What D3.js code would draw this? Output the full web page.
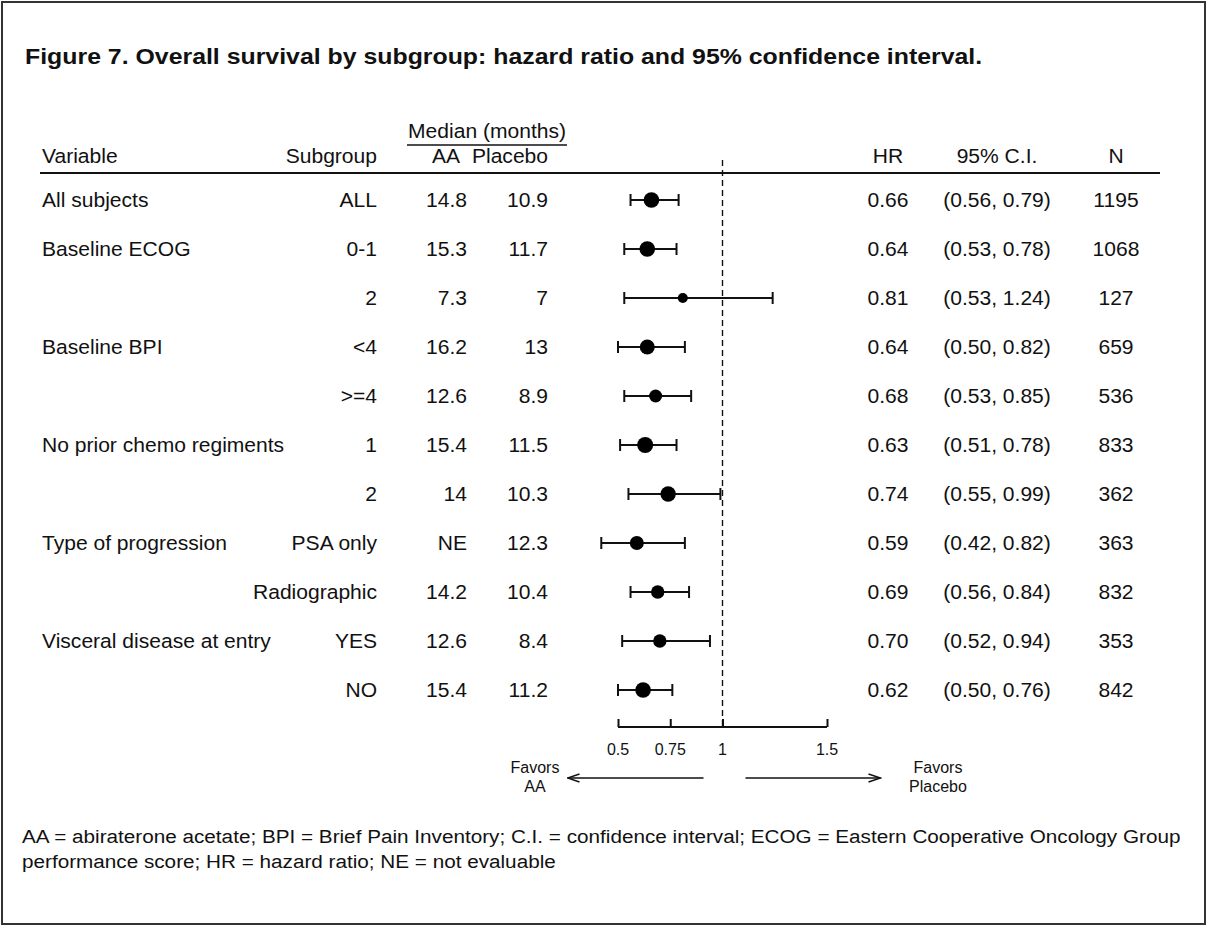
<!DOCTYPE html>
<html>
<head>
<meta charset="utf-8">
<script src="https://cdn.jsdelivr.net/npm/d3@7"></script>
<style>
  html, body { margin: 0; padding: 0; background: #fff; }
  svg { display: block; }
  text { font-family: "Liberation Sans", Arial, Helvetica, sans-serif; fill: #111; }
</style>
</head>
<body>
<svg id="chart" width="1208" height="927"></svg>
<script>
// ---------- DATA ----------
const variables = ["All subjects", "Baseline ECOG", "", "Baseline BPI", "", "No prior chemo regiments", "", "Type of progression", "", "Visceral disease at entry", ""];
const subgroups = ["ALL", "0-1", "2", "<4", ">=4", "1", "2", "PSA only", "Radiographic", "YES", "NO"];
const aaMedian = ["14.8", "15.3", "7.3", "16.2", "12.6", "15.4", "14", "NE", "14.2", "12.6", "15.4"];
const placeboMedian = ["10.9", "11.7", "7", "13", "8.9", "11.5", "10.3", "12.3", "10.4", "8.4", "11.2"];
const hazardRatio = [0.66, 0.64, 0.81, 0.64, 0.68, 0.63, 0.74, 0.59, 0.69, 0.70, 0.62];
const ciLower = [0.56, 0.53, 0.53, 0.50, 0.53, 0.51, 0.55, 0.42, 0.56, 0.52, 0.50];
const ciUpper = [0.79, 0.78, 1.24, 0.82, 0.85, 0.78, 0.99, 0.82, 0.84, 0.94, 0.76];
const nSubjects = [1195, 1068, 127, 659, 536, 833, 362, 363, 832, 353, 842];
const axisTicks = [0.5, 0.75, 1, 1.5];

const titleText = "Figure 7. Overall survival by subgroup: hazard ratio and 95% confidence interval.";
const footnoteLines = [
  "AA = abiraterone acetate; BPI = Brief Pain Inventory; C.I. = confidence interval; ECOG = Eastern Cooperative Oncology Group",
  "performance score; HR = hazard ratio; NE = not evaluable"
];

// ---------- STYLE / LAYOUT ----------
const markerRadius = [7.8, 7.8, 5, 7.5, 6.5, 8, 7.7, 7, 6.7, 6.7, 7.8];
const BODY = 19.5, BODY_SX = 1.08;

const svg = d3.select("#chart");
const rows = d3.range(variables.length);
const y = d3.scalePoint().domain(rows).range([200, 690]);
const x = d3.scaleLinear().domain([0.5, 1.5]).range([618, 827]);
const fmt = d3.format(".2f");

function txt(parent, px, py, str, opt = {}) {
  const sx = opt.sx || 1;
  return parent.append("text")
    .attr("transform", `translate(${px},${py}) scale(${sx},1)`)
    .attr("text-anchor", opt.anchor || "start")
    .attr("dominant-baseline", "central")
    .style("font-size", (opt.size || BODY) + "px")
    .style("font-weight", opt.weight || "normal")
    .text(str);
}

// border
svg.append("rect").attr("x", 2).attr("y", 2).attr("width", 1203).attr("height", 922)
  .attr("fill", "none").attr("stroke", "#333").attr("stroke-width", 2);

// title
txt(svg, 25, 57, titleText, { size: 22, weight: "bold", sx: 1.13 });

// headers
const hdrY = 156;
txt(svg, 42, hdrY, "Variable", { sx: BODY_SX });
txt(svg, 377, hdrY, "Subgroup", { anchor: "end", sx: BODY_SX });
txt(svg, 460, hdrY, "AA", { anchor: "end", sx: BODY_SX });
txt(svg, 548, hdrY, "Placebo", { anchor: "end", sx: BODY_SX });
txt(svg, 487, 131, "Median (months)", { anchor: "middle", sx: BODY_SX });
svg.append("line").attr("x1", 407).attr("x2", 567).attr("y1", 145).attr("y2", 145)
  .attr("stroke", "#111").attr("stroke-width", 1.5);
txt(svg, 888, hdrY, "HR", { anchor: "middle", sx: BODY_SX });
txt(svg, 997, hdrY, "95% C.I.", { anchor: "middle", sx: BODY_SX });
txt(svg, 1116, hdrY, "N", { anchor: "middle", sx: BODY_SX });
svg.append("line").attr("x1", 40).attr("x2", 1160).attr("y1", 173).attr("y2", 173)
  .attr("stroke", "#111").attr("stroke-width", 2);

// reference line at HR = 1
svg.append("line").attr("x1", x(1)).attr("x2", x(1)).attr("y1", 160).attr("y2", 727)
  .attr("stroke", "#111").attr("stroke-width", 1.4).attr("stroke-dasharray", "6,4");

// table rows
const g = svg.append("g");
rows.forEach(i => {
  const yy = y(i);
  if (variables[i]) txt(g, 42, yy, variables[i], { sx: BODY_SX });
  txt(g, 377, yy, subgroups[i], { anchor: "end", sx: BODY_SX });
  txt(g, 467, yy, aaMedian[i], { anchor: "end", sx: BODY_SX });
  txt(g, 548, yy, placeboMedian[i], { anchor: "end", sx: BODY_SX });
  txt(g, 888, yy, fmt(hazardRatio[i]), { anchor: "middle", sx: BODY_SX });
  txt(g, 997, yy, `(${fmt(ciLower[i])}, ${fmt(ciUpper[i])})`, { anchor: "middle", sx: BODY_SX });
  txt(g, 1116, yy, String(nSubjects[i]), { anchor: "middle", sx: BODY_SX });
});

// CI bars
const ci = svg.append("g").attr("stroke", "#111").attr("stroke-width", 2);
ci.selectAll("line.ci").data(rows).join("line").attr("class", "ci")
  .attr("x1", i => x(ciLower[i])).attr("x2", i => x(ciUpper[i]))
  .attr("y1", i => y(i)).attr("y2", i => y(i));
ci.selectAll("line.capl").data(rows).join("line").attr("class", "capl")
  .attr("x1", i => x(ciLower[i])).attr("x2", i => x(ciLower[i]))
  .attr("y1", i => y(i) - 6).attr("y2", i => y(i) + 6);
ci.selectAll("line.capu").data(rows).join("line").attr("class", "capu")
  .attr("x1", i => x(ciUpper[i])).attr("x2", i => x(ciUpper[i]))
  .attr("y1", i => y(i) - 6).attr("y2", i => y(i) + 6);
svg.append("g").selectAll("circle").data(rows).join("circle")
  .attr("cx", i => x(hazardRatio[i])).attr("cy", i => y(i))
  .attr("r", i => markerRadius[i]).attr("fill", "#000");

// axis
const axisG = svg.append("g").attr("transform", "translate(0,727)")
  .call(d3.axisTop(x).tickValues(axisTicks).tickSize(8).tickFormat(""));
axisG.select(".domain").attr("d", `M${x(0.5)},0H${x(1.5)}`).attr("stroke", "#111").attr("stroke-width", 2);
axisG.selectAll(".tick line").attr("stroke", "#111").attr("stroke-width", 2);
axisTicks.forEach(t => txt(svg, x(t), 749, String(t), { anchor: "middle", size: 16 }));

// arrows
const defs = svg.append("defs");
defs.append("marker").attr("id", "arr").attr("viewBox", "0 0 14 10").attr("refX", 13).attr("refY", 5)
  .attr("markerWidth", 14).attr("markerHeight", 10).attr("markerUnits", "userSpaceOnUse").attr("orient", "auto")
  .append("path").attr("d", "M1,1 L13,5 L1,9").attr("fill", "none").attr("stroke", "#111").attr("stroke-width", 1.5);
svg.append("line").attr("x1", x(1) - 19).attr("x2", x(1) - 155).attr("y1", 778).attr("y2", 778)
  .attr("stroke", "#111").attr("stroke-width", 1.5).attr("marker-end", "url(#arr)");
svg.append("line").attr("x1", x(1) + 23).attr("x2", x(1) + 158).attr("y1", 778).attr("y2", 778)
  .attr("stroke", "#111").attr("stroke-width", 1.5).attr("marker-end", "url(#arr)");
txt(svg, 535, 767, "Favors", { anchor: "middle", size: 16 });
txt(svg, 535, 786, "AA", { anchor: "middle", size: 16 });
txt(svg, 938, 767, "Favors", { anchor: "middle", size: 16 });
txt(svg, 938, 786, "Placebo", { anchor: "middle", size: 16 });

// footnote
footnoteLines.forEach((l, k) => txt(svg, 22, 836 + k * 25, l, { size: 19, sx: 1.09 }));
</script>
</body>
</html>
